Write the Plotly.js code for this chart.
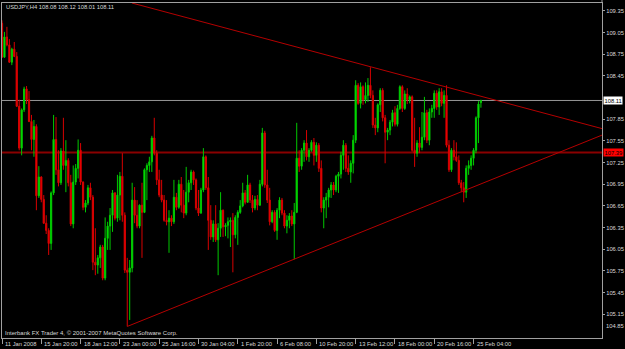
<!DOCTYPE html>
<html>
<head>
<meta charset="utf-8">
<script src="https://cdn.plot.ly/plotly-3.0.1.min.js"></script>
<style>
html,body{margin:0;padding:0;background:#000;}
#chart{width:625px;height:349px;}
</style>
</head>
<body>
<div id="chart"></div>
<script>
// ---- data (USDJPY, H4 bars) ----
const symbolName = 'USDJPY,H4';
const open = [109.18,108.71,108.99,108.88,108.64,108.82,108.72,108.03,107.45,107.98,
108.27,108.12,107.82,107.57,107.75,106.79,107.05,106.74,106.41,106.31,
106.13,106.83,107.57,107.15,106.97,107.41,107.21,107.28,106.97,106.40,
106.98,107.17,107.42,106.98,106.63,106.69,106.90,106.77,105.87,105.83,
105.93,106.08,105.65,106.20,106.37,106.52,106.83,106.48,106.80,107.06,
106.52,105.76,105.73,105.79,106.73,106.52,106.37,106.66,106.56,107.15,
107.21,107.26,107.59,107.38,107.01,106.80,106.73,106.45,106.43,106.48,
106.43,106.77,106.63,106.95,106.66,106.55,106.84,106.97,107.12,107.01,
106.62,106.55,106.87,107.33,106.90,106.45,106.22,106.40,106.18,106.34,
106.59,106.36,106.38,106.43,106.45,106.25,106.49,106.56,106.65,106.83,
106.70,106.94,106.73,106.62,106.74,106.66,106.95,107.66,106.94,106.73,
106.43,106.56,106.31,106.59,106.73,106.55,106.37,106.45,106.51,106.40,
106.56,107.31,107.20,107.42,107.52,107.33,107.42,107.53,107.35,107.49,
107.17,106.62,106.73,106.77,106.87,106.94,106.87,107.06,107.09,107.35,
107.49,107.17,107.12,107.24,107.56,108.32,108.07,108.30,108.12,108.18,
108.32,108.18,107.77,107.73,108.05,108.25,107.87,107.67,107.70,107.81,
107.94,107.78,108.00,108.30,108.00,108.20,108.12,108.16,107.42,107.38,
107.52,107.46,107.60,107.94,107.56,107.95,108.00,108.21,108.02,108.23,
108.07,108.18,107.49,107.15,107.42,107.33,107.28,106.97,106.90,106.84,
107.17,107.21,107.31,107.42,107.87,108.08];
const high = [109.22,109.06,109.13,108.96,108.84,108.92,108.78,108.12,108.00,108.30,
108.31,108.24,107.91,107.84,107.78,107.20,107.06,106.80,106.52,106.34,
106.85,107.91,107.88,107.42,107.45,107.87,107.56,107.31,107.08,107.21,
107.23,107.57,107.52,106.99,106.73,106.94,106.97,106.80,106.34,105.97,
106.11,106.11,106.49,106.43,106.62,106.87,106.84,107.08,107.12,107.38,
106.56,105.93,105.90,106.97,106.91,106.73,106.67,106.97,107.17,107.24,
107.33,107.62,107.87,107.42,107.15,107.01,106.80,106.73,106.59,106.52,
107.01,106.83,107.01,107.05,106.87,107.19,107.01,107.15,107.14,107.03,
106.87,106.90,107.45,107.35,107.05,106.66,106.45,106.66,106.41,106.84,
106.60,106.41,106.49,106.49,106.55,106.52,106.59,106.73,106.97,106.87,
107.08,106.97,106.80,106.79,106.80,107.01,107.73,107.69,107.15,106.90,
106.59,106.59,106.62,106.77,106.76,106.59,106.52,106.55,106.59,106.69,
107.80,107.42,107.45,107.56,107.70,107.45,107.56,107.59,107.53,107.52,
107.28,106.77,106.83,106.90,106.98,106.98,107.08,107.12,107.40,107.56,
107.52,107.35,107.28,107.63,108.39,108.35,108.36,108.32,108.36,108.42,
108.57,108.25,107.87,108.07,108.28,108.28,107.91,107.73,107.84,107.98,
108.03,108.05,108.32,108.32,108.25,108.28,108.18,108.18,107.87,107.56,
107.74,107.95,108.16,107.98,108.00,108.05,108.25,108.25,108.28,108.28,
108.25,108.32,107.56,107.45,107.56,107.53,107.35,107.01,106.98,107.21,
107.28,107.35,107.45,107.89,108.10,108.12];
const low = [108.70,108.70,108.86,108.63,108.60,108.71,108.02,107.42,107.35,107.95,
108.06,107.81,107.42,107.33,106.59,106.76,106.70,106.40,106.26,105.97,
106.04,106.80,107.08,106.92,106.94,107.15,106.84,106.92,106.37,106.34,
106.94,107.03,106.94,106.59,106.56,106.66,106.73,105.76,105.69,105.71,
105.79,105.62,105.62,106.04,106.04,106.29,106.45,106.43,106.45,106.43,
105.72,104.98,105.07,105.73,106.41,106.34,106.34,105.93,106.55,106.73,
107.12,107.12,107.35,106.94,106.77,106.70,106.43,106.38,106.00,106.37,
106.40,106.59,106.61,106.56,106.48,106.52,106.70,106.87,106.94,106.59,
106.51,106.54,106.84,106.87,106.04,106.18,106.15,106.15,105.69,106.22,
106.22,106.23,106.20,106.08,105.73,106.20,106.11,106.54,106.63,106.67,
106.69,106.69,106.56,106.59,106.59,106.65,106.92,106.90,106.69,106.38,
106.41,106.29,106.18,106.48,106.52,106.34,106.27,106.34,106.37,105.91,
106.55,107.12,107.15,107.26,107.28,107.26,107.40,107.21,107.26,107.12,
106.56,106.34,106.48,106.63,106.76,106.80,106.84,106.83,107.03,107.15,
107.12,107.08,106.97,107.10,107.52,108.05,108.00,108.05,108.07,108.09,
108.14,107.73,107.63,107.67,107.95,107.82,107.24,107.56,107.63,107.75,
107.75,107.75,107.98,107.95,107.98,108.06,108.07,107.40,107.19,107.33,
107.38,107.42,107.56,107.52,107.49,107.87,107.87,107.98,107.91,108.03,
107.87,107.46,107.12,107.12,107.28,107.26,106.94,106.84,106.70,106.76,
107.08,107.15,107.21,107.38,107.52,108.01];
const close = [108.71,108.99,108.88,108.64,108.82,108.72,108.03,107.45,107.98,108.27,
108.12,107.82,107.57,107.75,106.79,107.05,106.74,106.41,106.31,106.13,
106.83,107.57,107.15,106.97,107.41,107.21,107.28,106.97,106.40,106.98,
107.17,107.42,106.98,106.63,106.69,106.90,106.77,105.87,105.83,105.93,
106.08,105.65,106.20,106.37,106.52,106.83,106.48,106.80,107.06,106.52,
105.76,105.73,105.79,106.73,106.52,106.37,106.66,106.56,107.15,107.21,
107.26,107.59,107.38,107.01,106.80,106.73,106.45,106.43,106.48,106.43,
106.77,106.63,106.95,106.66,106.55,106.84,106.97,107.12,107.01,106.62,
106.55,106.87,107.33,106.90,106.45,106.22,106.40,106.18,106.34,106.59,
106.36,106.38,106.43,106.45,106.25,106.49,106.56,106.65,106.83,106.70,
106.94,106.73,106.62,106.74,106.66,106.95,107.66,106.94,106.73,106.43,
106.56,106.31,106.59,106.73,106.55,106.37,106.45,106.51,106.40,106.56,
107.31,107.20,107.42,107.52,107.33,107.42,107.53,107.35,107.49,107.17,
106.62,106.73,106.77,106.87,106.94,106.87,107.06,107.09,107.35,107.49,
107.17,107.12,107.24,107.56,108.32,108.07,108.30,108.12,108.18,108.32,
108.18,107.77,107.73,108.05,108.25,107.87,107.67,107.70,107.81,107.94,
107.78,108.00,108.30,108.00,108.20,108.12,108.16,107.42,107.38,107.52,
107.46,107.60,107.94,107.56,107.95,108.00,108.21,108.02,108.23,108.07,
108.18,107.49,107.15,107.42,107.33,107.28,106.97,106.90,106.84,107.17,
107.21,107.31,107.42,107.87,108.06,108.11];

// time-axis labels (bar index -> label)
const timeTickIdx = [0,16,32,48,64,80,96,112,128,144,160,176,192];
const timeTickLabels = ['11 Jan 2008','15 Jan 20:00','18 Jan 12:00','23 Jan 00:00','25 Jan 16:00',
  '30 Jan 04:00','1 Feb 20:00','6 Feb 08:00','10 Feb 20:00','13 Feb 12:00','18 Feb 00:00',
  '20 Feb 16:00','25 Feb 04:00'];
// price-axis labels
const priceTicks = [109.35,109.05,108.75,108.45,107.85,107.55,107.25,106.95,106.65,106.35,106.05,105.75,105.45,105.15];
const priceBottomLabel = '104.85';

// drawn objects
const bidPrice = 108.11;
const levelPrice = 107.39;
const upperTrendX = [52.9, 244.3];
const upperTrendY = [109.46, 107.72];
const lowerTrendX = [51, 244.3];
const lowerTrendY = [104.98, 107.63];

const copyrightText = 'Interbank FX Trader 4, \u00a9 2001-2007 MetaQuotes Software Corp.';

// ---- chart ----
const FONT = "'Liberation Sans', Arial, sans-serif";
const SMALL = 5.8;
const TXT = '#d8d8d8';
const FRAME = '#a0a0a0';
const idx = close.map((_, i) => i);
const last = close.length - 1;
const fmt = v => v.toFixed(2);

const traces = [
  {type:'scatter', mode:'lines', x:upperTrendX, y:upperTrendY, line:{color:'#b40000', width:1}, hoverinfo:'skip', showlegend:false},
  {type:'scatter', mode:'lines', x:lowerTrendX, y:lowerTrendY, line:{color:'#b40000', width:1}, hoverinfo:'skip', showlegend:false},
  {type:'candlestick', x:idx, open:open, high:high, low:low, close:close,
   increasing:{line:{color:'#00c800', width:1}, fillcolor:'#00ff00'},
   decreasing:{line:{color:'#d80000', width:1}, fillcolor:'#ff0000'},
   whiskerwidth:0, hoverinfo:'skip', showlegend:false}
];

const annotations = [
  {xref:'paper', yref:'paper', x:0.0035, y:0.988, xanchor:'left', yanchor:'middle', showarrow:false,
   text: symbolName + ' ' + [open[last], high[last], low[last], close[last]].map(fmt).join(' '),
   font:{family:FONT, size:SMALL, color:TXT}},
  {xref:'paper', yref:'paper', x:0.002, y:0.015, xanchor:'left', yanchor:'middle', showarrow:false,
   text: copyrightText, font:{family:FONT, size:6.0, color:TXT}},
  {xref:'paper', yref:'y', x:1, y:bidPrice, xanchor:'left', yanchor:'middle', xshift:1, showarrow:false,
   text: fmt(bidPrice), bgcolor:'#ffffff', borderpad:0.5, font:{family:FONT, size:SMALL, color:'#000000'}},
  {xref:'paper', yref:'y', x:1, y:levelPrice, xanchor:'left', yanchor:'middle', xshift:1, showarrow:false,
   text: fmt(levelPrice), bgcolor:'#ff0000', borderpad:0.5, font:{family:FONT, size:SMALL, color:'#000000'}},
  {xref:'paper', yref:'paper', x:1, y:0.037, xanchor:'left', yanchor:'middle', xshift:2, showarrow:false,
   text: priceBottomLabel, font:{family:FONT, size:SMALL, color:TXT}}
];
timeTickIdx.forEach((t, k) => {
  annotations.push({xref:'x', yref:'paper', x:t, y:-0.019, xanchor:'left', yanchor:'middle', xshift:1,
    showarrow:false, text:timeTickLabels[k], font:{family:FONT, size:SMALL, color:TXT}});
});

const layout = {
  width:625, height:349,
  margin:{l:2, r:23, t:3, b:11, pad:0},
  paper_bgcolor:'#000000', plot_bgcolor:'#000000',
  showlegend:false,
  xaxis:{range:[0, 244.3], showgrid:false, zeroline:false, showline:true, linecolor:FRAME, linewidth:1, mirror:true,
    tickvals:timeTickIdx, ticks:'outside', ticklen:5, tickcolor:FRAME, showticklabels:false,
    rangeslider:{visible:false}, fixedrange:true},
  yaxis:{side:'right', range:[104.82, 109.46], showgrid:false, zeroline:false, showline:true, linecolor:FRAME, linewidth:1, mirror:true,
    tickvals:priceTicks, ticktext:priceTicks.map(fmt), ticks:'outside', ticklen:2, tickcolor:FRAME,
    tickfont:{family:FONT, size:SMALL, color:TXT}, fixedrange:true},
  shapes:[
    {type:'line', xref:'paper', yref:'y', x0:0, x1:1, y0:bidPrice, y1:bidPrice, line:{color:'#969696', width:1}, layer:'below'},
    {type:'line', xref:'paper', yref:'y', x0:0, x1:1, y0:levelPrice, y1:levelPrice, line:{color:'#8a0000', width:2}, layer:'below'},
    {type:'line', xref:'paper', yref:'paper', x0:1, x1:1, y0:1, y1:1.01, line:{color:FRAME, width:1}}
  ],
  annotations:annotations
};

Plotly.newPlot('chart', traces, layout, {staticPlot:true, displayModeBar:false});
</script>
</body>
</html>
